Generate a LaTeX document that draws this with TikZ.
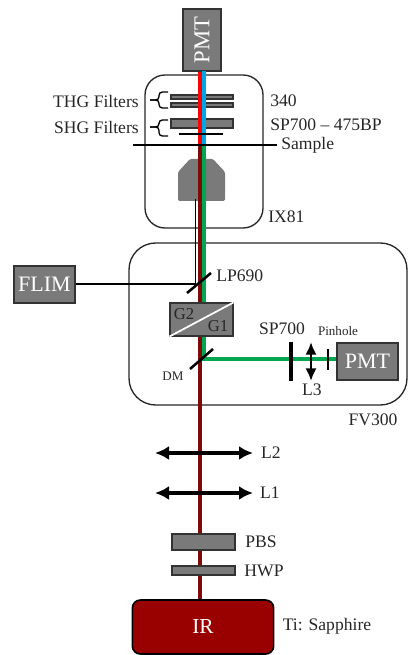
\documentclass[tikz,border=0pt]{standalone}
\usepackage{fontspec}
\setmainfont{Liberation Serif}
\usepackage{xcolor}
\usetikzlibrary{positioning, arrows.meta, calc}
\definecolor{boxgray}{HTML}{7A7A7A}
\definecolor{edgegray}{HTML}{333333}
\definecolor{irred}{HTML}{990000}
\definecolor{beamdark}{HTML}{7F0A0A}
\definecolor{beamred}{HTML}{FF0000}
\definecolor{beamblue}{HTML}{00A6E8}
\definecolor{beamgreen}{HTML}{00A650}
\tikzset{
  graybox/.style={draw=edgegray, fill=boxgray, line width=1.1pt, inner sep=0pt, text=white},
  housing/.style={draw=black!85, line width=1pt},
  lbl/.style={inner sep=0pt, text=black!85, font=\fontsize{13.2}{15}\selectfont},
  smalllbl/.style={inner sep=0pt, text=black!85, font=\fontsize{9.8}{11}\selectfont},
  beam/.style={line width=2.5pt},
  blackline/.style={draw=black, line width=1.3pt},
  lens/.style={draw=black, line width=2.4pt, {Latex[length=10.5pt,width=10.5pt]}-{Latex[length=10.5pt,width=10.5pt]}}
}
\begin{document}
\begin{tikzpicture}[x=0.75pt, y=-0.75pt]
    \useasboundingbox (0,0) rectangle (407,655);
    % housings
    \draw[housing, rounded corners=15pt] (145,75) rectangle (263,228);
    \draw[housing, rounded corners=20pt] (129,243) rectangle (407,405);
    % beam corners
    \coordinate (sample) at (200,145);
    \coordinate (objtip) at (195.5,199);
    \coordinate (lp) at (195.5,284);
    \coordinate (dm) at (200,359);
    \coordinate (dmgreen) at (204,359);
    \coordinate (sampleleft) at (133,145);
    % objective
    \fill[boxgray, rounded corners=1pt] (190,159) -- (213,159) -- (225,172) -- (225,201) -- (178,201) -- (178,172) -- cycle;
    % filters
    \node[graybox, minimum width=46.5pt, minimum height=3pt] (thgone) at (202,97) {};
    \node[graybox, minimum width=46.5pt, minimum height=3pt] (thgtwo) at (202,105) {};
    \node[graybox, minimum width=46.5pt, minimum height=6.5pt] (shg) at (202,123.5) {};
    % sources and detectors
    \node[graybox, rotate=90, minimum width=46.5pt, minimum height=28.5pt, font=\fontsize{17}{19}\selectfont] (pmttop) at (202,40) {PMT};
    \node[graybox, minimum width=45.5pt, minimum height=27.5pt, font=\fontsize{16.5}{18}\selectfont] (flim) at (44.5,284.5) {FLIM};
    \node[graybox, minimum width=45.5pt, minimum height=27.5pt, font=\fontsize{16.5}{18}\selectfont] (pmtside) at (367.5,361.5) {PMT};
    \node[draw=black, fill=irred, line width=1.2pt, rounded corners=6pt, inner sep=0pt, text=white,
          minimum width=106pt, minimum height=40.5pt, font=\fontsize{16}{18}\selectfont] (irbox) at (203,627) {IR};
    % beams
    \draw[beam, beamdark] (irbox.north -| dm) -- (sample);
    \draw[beam, beamred] (sample) -- (sample |- pmttop.west);
    \draw[beam, beamblue] (204,145) -- (204,71);
    \draw[beam, beamgreen] (204,145) -- (dmgreen) -- (pmtside.west |- dmgreen);
    \draw[blackline] (flim.east |- lp) -- (lp) -- (objtip);
    % thin optics
    \draw[draw=black, line width=2.2pt] (179,134) -- (223,134);
    \node[lbl, anchor=west] (samplelbl) at (281,145) {Sample};
    \draw[blackline, line width=1.6pt] (sampleleft) -- ([xshift=-3pt]samplelbl.west);
    \draw[blackline, line width=1.9pt] (187,293) -- (211,273);
    \draw[blackline, line width=1.9pt] (190,369) -- (213,349);
    \draw[draw=black, line width=2.6pt] (291,342) -- (291,381);
    \draw[draw=black, line width=1pt] (328,349) -- (328,370);
    \draw[draw=black, line width=2pt, {Latex[length=9.5pt,width=8.5pt]}-{Latex[length=9.5pt,width=8.5pt]}] (311,342) -- (311,381);
    \draw[lens] (155,453) -- (253,453);
    \draw[lens] (155,493) -- (253,493);
    % boxes that hide the beam
    \node[graybox, minimum width=47pt, minimum height=24.5pt] (gbox) at (201.5,319.5) {};
    \draw[white, line width=1.3pt] (gbox.south west) -- (gbox.north east);
    \node[text=black!85, inner sep=0pt, font=\fontsize{12.5}{14}\selectfont] (gtwo) at (184,314) {G2};
    \node[text=black!85, inner sep=0pt, font=\fontsize{12.5}{14}\selectfont] (gone) at (218,326) {G1};
    \node[graybox, minimum width=47pt, minimum height=12pt] (pbs) at (203.5,542) {};
    \node[graybox, minimum width=47pt, minimum height=6.5pt] (hwp) at (203.5,570.5) {};
    % braces
    \draw[black, line width=1pt, rounded corners=2.5pt] (168,92) -- (159,92) -- (159,100) -- (150,100);
    \draw[black, line width=1pt, rounded corners=2.5pt] (150,100) -- (159,100) -- (159,108) -- (168,108);
    \draw[black, line width=1pt, rounded corners=2.5pt] (168,120) -- (159,120) -- (159,127) -- (150,127);
    \draw[black, line width=1pt, rounded corners=2.5pt] (150,127) -- (159,127) -- (159,136) -- (168,136);
    % labels
    \node[lbl, anchor=east] (thg) at (139,101) {THG Filters};
    \node[lbl, anchor=east] (shglbl) at (139,127) {SHG Filters};
    \node[lbl, anchor=west] (threeforty) at (270,101) {340};
    \node[lbl, anchor=west] (sptop) at (270,125) {SP700 -- 475BP};
    \node[lbl, anchor=west] (ixlbl) at (268,217) {IX81};
    \node[lbl, anchor=west] (lplbl) at (216,276) {LP690};
    \node[lbl] (splbl) at (282,329) {SP700};
    \node[smalllbl] (pinhole) at (338,331) {Pinhole};
    \node[lbl] (lthree) at (312,390) {L3};
    \node[smalllbl] (dmlbl) at (173,376) {DM};
    \node[lbl] (fvlbl) at (373,420) {FV300};
    \node[lbl] (ltwo) at (271,453) {L2};
    \node[lbl] (lone) at (270,493) {L1};
    \node[lbl] (pbslbl) at (261,542) {PBS};
    \node[lbl] (hwplbl) at (264,571) {HWP};
    \node[lbl] (tilbl) at (327,626) {Ti: Sapphire};
\end{tikzpicture}
\end{document}
